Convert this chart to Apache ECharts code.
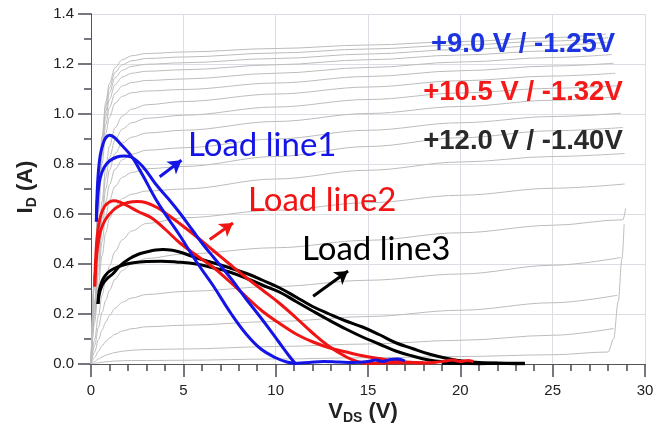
<!DOCTYPE html>
<html><head><meta charset="utf-8">
<script src="https://cdn.jsdelivr.net/npm/echarts@6/dist/echarts.min.js"></script>
<style>html,body{margin:0;padding:0;background:#fff}#c{width:665px;height:432px}</style>
</head><body><div id="c"></div>
<script>
// ---- data ----
const xTicks = [0, 5, 10, 15, 20, 25, 30];
const yTicks = [0, 0.2, 0.4, 0.6, 0.8, 1.0, 1.2, 1.4];

// shared V_DS sample points of the gray output curves (last point per curve is in grayEndV)
const grayV = [0, 0.2, 0.4, 0.6, 0.8, 1.0, 1.3, 1.7, 2.2, 3, 5, 10, 15, 20, 25];
const grayEndV = [27.9, 28.0, 28.1, 28.1, 28.2, 28.3, 28.4, 28.5, 28.6, 28.7, 28.8, 28.9, 28.9, 28.8, 28.7, 28.5, 28.3, 28.0];
const grayCurves = [
  [0, 0.374, 0.686, 0.911, 1.048, 1.123, 1.186, 1.217, 1.233, 1.242, 1.248, 1.262, 1.276, 1.290, 1.306, 1.320],
  [0, 0.368, 0.675, 0.896, 1.032, 1.105, 1.167, 1.197, 1.213, 1.222, 1.228, 1.244, 1.260, 1.276, 1.292, 1.305],
  [0, 0.362, 0.663, 0.880, 1.012, 1.085, 1.145, 1.175, 1.191, 1.199, 1.205, 1.222, 1.240, 1.258, 1.275, 1.288],
  [0, 0.353, 0.647, 0.859, 0.989, 1.059, 1.118, 1.148, 1.163, 1.171, 1.177, 1.197, 1.217, 1.236, 1.253, 1.265],
  [0, 0.342, 0.627, 0.832, 0.958, 1.026, 1.083, 1.112, 1.126, 1.134, 1.140, 1.163, 1.186, 1.208, 1.226, 1.238],
  [0, 0.329, 0.604, 0.802, 0.922, 0.988, 1.043, 1.071, 1.085, 1.092, 1.098, 1.124, 1.150, 1.173, 1.192, 1.203],
  [0, 0.252, 0.473, 0.651, 0.788, 0.872, 0.945, 0.992, 1.019, 1.037, 1.050, 1.080, 1.108, 1.133, 1.152, 1.163],
  [0, 0.239, 0.448, 0.617, 0.746, 0.826, 0.896, 0.940, 0.965, 0.983, 0.995, 1.028, 1.058, 1.084, 1.103, 1.113],
  [0, 0.224, 0.421, 0.580, 0.701, 0.776, 0.842, 0.884, 0.907, 0.924, 0.935, 0.970, 1.002, 1.030, 1.055, 1.069],
  [0, 0.208, 0.389, 0.536, 0.649, 0.718, 0.779, 0.817, 0.839, 0.855, 0.865, 0.900, 0.935, 0.965, 0.990, 1.003],
  [0, 0.190, 0.356, 0.490, 0.593, 0.656, 0.711, 0.747, 0.766, 0.781, 0.790, 0.830, 0.870, 0.905, 0.933, 0.946],
  [0, 0.168, 0.315, 0.434, 0.525, 0.581, 0.630, 0.662, 0.679, 0.692, 0.700, 0.740, 0.775, 0.808, 0.830, 0.842],
  [0, 0.099, 0.193, 0.275, 0.339, 0.392, 0.450, 0.497, 0.532, 0.562, 0.585, 0.615, 0.645, 0.675, 0.703, 0.720],
  [0, 0.075, 0.145, 0.207, 0.255, 0.295, 0.339, 0.374, 0.400, 0.422, 0.440, 0.465, 0.495, 0.525, 0.555, 0.577],
  [0, 0.049, 0.096, 0.136, 0.168, 0.194, 0.223, 0.247, 0.264, 0.278, 0.290, 0.310, 0.335, 0.360, 0.395, 0.426],
  [0, 0.026, 0.051, 0.073, 0.090, 0.104, 0.119, 0.132, 0.141, 0.149, 0.155, 0.170, 0.190, 0.215, 0.245, 0.275],
  [0, 0.010, 0.020, 0.028, 0.035, 0.040, 0.046, 0.051, 0.055, 0.058, 0.060, 0.070, 0.080, 0.095, 0.115, 0.142],
  [0, 0.003, 0.005, 0.007, 0.009, 0.010, 0.012, 0.013, 0.014, 0.014, 0.015, 0.020, 0.025, 0.030, 0.037, 0.048]
];
// breakdown tails at the right end
const tail14 = [[28.95, 0.622]];
const tail18 = [[28.3, 0.10], [28.55, 0.25], [28.75, 0.42], [28.87, 0.56]];

// dynamic load lines [V_DS, I_D]
const blueA = [[0.29,0.57],[0.33,0.68],[0.4,0.77],[0.5,0.835],[0.65,0.88],[0.8,0.905],[1.0,0.915],[1.25,0.907],[1.6,0.88],[2.2,0.83],[2.8,0.755],[3.5,0.66],[4.2,0.58],[4.8,0.515],[5.7,0.41],[6.6,0.315],[7.6,0.2],[8.4,0.12],[9.2,0.06],[10.0,0.025],[10.6,0.008],[11.1,0.002]];
const blueB = [[0.29,0.57],[0.33,0.64],[0.4,0.7],[0.5,0.745],[0.7,0.785],[1.0,0.812],[1.4,0.828],[1.8,0.832],[2.2,0.827],[2.8,0.79],[3.5,0.72],[4.2,0.66],[4.8,0.605],[5.5,0.535],[6.1,0.475],[6.6,0.43],[7.6,0.34],[8.4,0.26],[9.3,0.175],[10.2,0.085],[10.7,0.035],[11.05,0.003]];
const blueTail = [[11.0,0.002],[11.8,0.006],[12.6,0.01],[13.4,0.008],[14.2,0.006],[15.0,0.01],[15.4,0.016],[15.8,0.01],[16.2,0.018],[16.6,0.02],[17.0,0.012]];
const redA = [[0.2,0.31],[0.24,0.4],[0.3,0.48],[0.4,0.55],[0.55,0.6],[0.75,0.632],[1.0,0.648],[1.25,0.653],[1.6,0.646],[2.0,0.632],[2.6,0.608],[3.27,0.585],[4.0,0.54],[4.8,0.485],[5.7,0.435],[6.6,0.388],[7.5,0.33],[8.42,0.268],[9.3,0.21],[10.22,0.162],[11.1,0.12],[12.03,0.088],[12.9,0.065],[13.83,0.048],[14.7,0.033],[15.6,0.022],[16.4,0.013],[17.1,0.008],[18.0,0.005]];
const redB = [[0.2,0.31],[0.25,0.38],[0.3,0.43],[0.4,0.49],[0.55,0.54],[0.8,0.58],[1.2,0.615],[1.6,0.635],[2.0,0.646],[2.5,0.65],[3.0,0.645],[3.6,0.625],[4.2,0.595],[4.8,0.562],[5.7,0.51],[6.6,0.455],[7.5,0.4],[8.42,0.345],[9.3,0.295],[10.22,0.242],[11.1,0.185],[12.03,0.122],[12.9,0.07],[13.83,0.028],[14.4,0.01],[14.9,0.002]];
const redTail = [[14.9,0.002],[15.8,0.004],[16.8,0.005],[17.8,0.004],[18.6,0.006],[19.2,0.012],[19.6,0.016],[20.0,0.01],[20.4,0.014],[20.7,0.01]];
const blackA = [[0.38,0.24],[0.45,0.28],[0.6,0.315],[0.85,0.34],[1.2,0.362],[1.6,0.395],[2.1,0.422],[2.6,0.44],[3.0,0.448],[3.5,0.456],[3.9,0.458],[4.4,0.455],[4.8,0.448],[5.7,0.425],[6.6,0.405],[7.5,0.385],[8.5,0.36],[9.3,0.335],[10.2,0.305],[11.1,0.268],[12.0,0.23],[12.9,0.2],[13.8,0.172],[14.7,0.148],[15.6,0.118],[16.5,0.085],[17.4,0.062],[18.3,0.04],[19.3,0.022],[20.3,0.01],[21.2,0.005],[22.0,0.003]];
const blackB = [[0.38,0.24],[0.42,0.28],[0.5,0.31],[0.65,0.34],[0.9,0.365],[1.2,0.38],[1.7,0.395],[2.3,0.405],[3.0,0.41],[3.8,0.411],[4.6,0.408],[5.7,0.4],[6.6,0.385],[7.5,0.368],[8.5,0.34],[9.3,0.315],[10.2,0.288],[11.1,0.25],[12.0,0.212],[12.9,0.175],[13.8,0.14],[14.7,0.108],[15.6,0.08],[16.5,0.052],[17.4,0.032],[18.3,0.016],[19.3,0.007],[20.0,0.003]];
const blackTail = [[19.0,0.004],[20.0,0.003],[21.0,0.002],[22.0,0.003],[23.0,0.002],[23.5,0.002]];

// annotation arrows [start, end] in data units
const arrowBlue = [[3.72, 0.749], [4.90, 0.815]];
const arrowRed = [[6.43, 0.498], [7.69, 0.564]];
const arrowBlack = [[12.03, 0.271], [13.92, 0.372]];

const biasLabels = ['+9.0 V / -1.25V', '+10.5 V / -1.32V', '+12.0 V / -1.40V'];
const loadLabels = ['Load line1', 'Load line2', 'Load line3'];

// ---- chart ----
const BLUE = '#1414e6', RED = '#f01414', BLACK = '#000000';
const TICK = '#4a4a55';
const FONT = '"Liberation Sans", Arial, sans-serif';
const chart = echarts.init(document.getElementById('c'));

const series = [];
grayCurves.forEach((c, i) => {
  const data = c.map((y, j) => [j < grayV.length ? grayV[j] : grayEndV[i], y]);
  if (i === 13) tail14.forEach(p => data.push(p));
  if (i === 17) tail18.forEach(p => data.push(p));
  series.push({type: 'line', data, showSymbol: false, smooth: 0.35, smoothMonotone: 'x',
    lineStyle: {color: '#bcbcbc', width: 1}, silent: true, z: 1});
});
function loadSeries(data, color, width, arrow) {
  const s = {type: 'line', data, showSymbol: false, smooth: 0.4,
    lineStyle: {color, width: width}, silent: true, z: 3};
  if (arrow) {
    s.markLine = {silent: true, symbol: ['none', 'arrow'], symbolSize: [12, 13],
      label: {show: false}, lineStyle: {color, width: 3, type: 'solid'},
      data: [[{coord: arrow[0]}, {coord: arrow[1]}]], animation: false};
  }
  return s;
}
series.push(loadSeries(blackTail, BLACK, 3.5));
series.push(loadSeries(blackA, BLACK, 3, arrowBlack));
series.push(loadSeries(blackB, BLACK, 3));
series.push(loadSeries(redTail, RED, 3));
series.push(loadSeries(redA, RED, 3, arrowRed));
series.push(loadSeries(redB, RED, 3));
series.push(loadSeries(blueTail, BLUE, 3));
series.push(loadSeries(blueA, BLUE, 3, arrowBlue));
series.push(loadSeries(blueB, BLUE, 3));

const xStep = xTicks[1] - xTicks[0], yStep = yTicks[1] - yTicks[0];

chart.setOption({
  animation: false,
  grid: {left: 91, right: 20, top: 14, bottom: 68},
  xAxis: [{
    type: 'value', min: xTicks[0], max: xTicks[xTicks.length - 1], interval: xStep,
    axisLine: {show: true, onZero: false, lineStyle: {color: '#555'}},
    axisTick: {show: true, length: 13, lineStyle: {color: TICK, width: 1.5}},
    minorTick: {show: true, splitNumber: 5, length: 7, lineStyle: {color: TICK, width: 1.5}},
    axisLabel: {color: '#222', fontSize: 15, fontFamily: FONT, margin: 19}
  }, {
    type: 'value', position: 'top', min: xTicks[0], max: xTicks[xTicks.length - 1], interval: xStep,
    axisLine: {show: true, lineStyle: {color: '#555'}},
    axisTick: {show: false}, axisLabel: {show: false}, splitLine: {show: false}
  }],
  yAxis: [{
    type: 'value', min: yTicks[0], max: yTicks[yTicks.length - 1], interval: yStep,
    axisLine: {show: true, onZero: false, lineStyle: {color: '#555'}},
    axisTick: {show: true, length: 13, lineStyle: {color: TICK, width: 1.5}},
    minorTick: {show: true, splitNumber: 2, length: 7, lineStyle: {color: TICK, width: 1.5}},
    axisLabel: {color: '#222', fontSize: 15, fontFamily: FONT, margin: 17, formatter: v => v.toFixed(1)}
  }, {
    type: 'value', position: 'right', min: yTicks[0], max: yTicks[yTicks.length - 1], interval: yStep,
    axisLine: {show: true, lineStyle: {color: '#555'}},
    axisTick: {show: false}, axisLabel: {show: false}, splitLine: {show: false}
  }],
  series,
  graphic: [
    {type: 'text', x: 523, y: 44, style: {text: biasLabels[0], fill: '#1c35e0', font: 'bold 27.5px ' + FONT, align: 'center', verticalAlign: 'middle'}, z: 10},
    {type: 'text', x: 523, y: 92.5, style: {text: biasLabels[1], fill: '#f51a1a', font: 'bold 27.5px ' + FONT, align: 'center', verticalAlign: 'middle'}, z: 10},
    {type: 'text', x: 523, y: 141, style: {text: biasLabels[2], fill: '#2a2a2a', font: 'bold 27.5px ' + FONT, align: 'center', verticalAlign: 'middle'}, z: 10},
    {type: 'text', x: 188, y: 145, style: {text: loadLabels[0], fill: BLUE, font: '33px Lato, "Open Sans", sans-serif', align: 'left', verticalAlign: 'middle'}, z: 10},
    {type: 'text', x: 248, y: 200, style: {text: loadLabels[1], fill: RED, font: '33px Lato, "Open Sans", sans-serif', align: 'left', verticalAlign: 'middle'}, z: 10},
    {type: 'text', x: 302, y: 249, style: {text: loadLabels[2], fill: BLACK, font: '33px Lato, "Open Sans", sans-serif', align: 'left', verticalAlign: 'middle'}, z: 10},
    {type: 'text', x: 363, y: 412, style: {
      text: '{a|V}{b|DS}{a| (V)}', align: 'center', verticalAlign: 'middle',
      rich: {
        a: {font: 'bold 22px ' + FONT, fill: '#222', lineHeight: 26},
        b: {font: 'bold 14px ' + FONT, fill: '#222', lineHeight: 14, verticalAlign: 'bottom'}
      }}, z: 10},
    {type: 'text', x: 26, y: 187, rotation: Math.PI / 2, style: {
      text: '{a|I}{b|D}{a| (A)}', align: 'center', verticalAlign: 'middle',
      rich: {
        a: {font: 'bold 22px ' + FONT, fill: '#222', lineHeight: 26},
        b: {font: 'bold 14px ' + FONT, fill: '#222', lineHeight: 14, verticalAlign: 'bottom'}
      }}, z: 10}
  ]
});
</script></body></html>
